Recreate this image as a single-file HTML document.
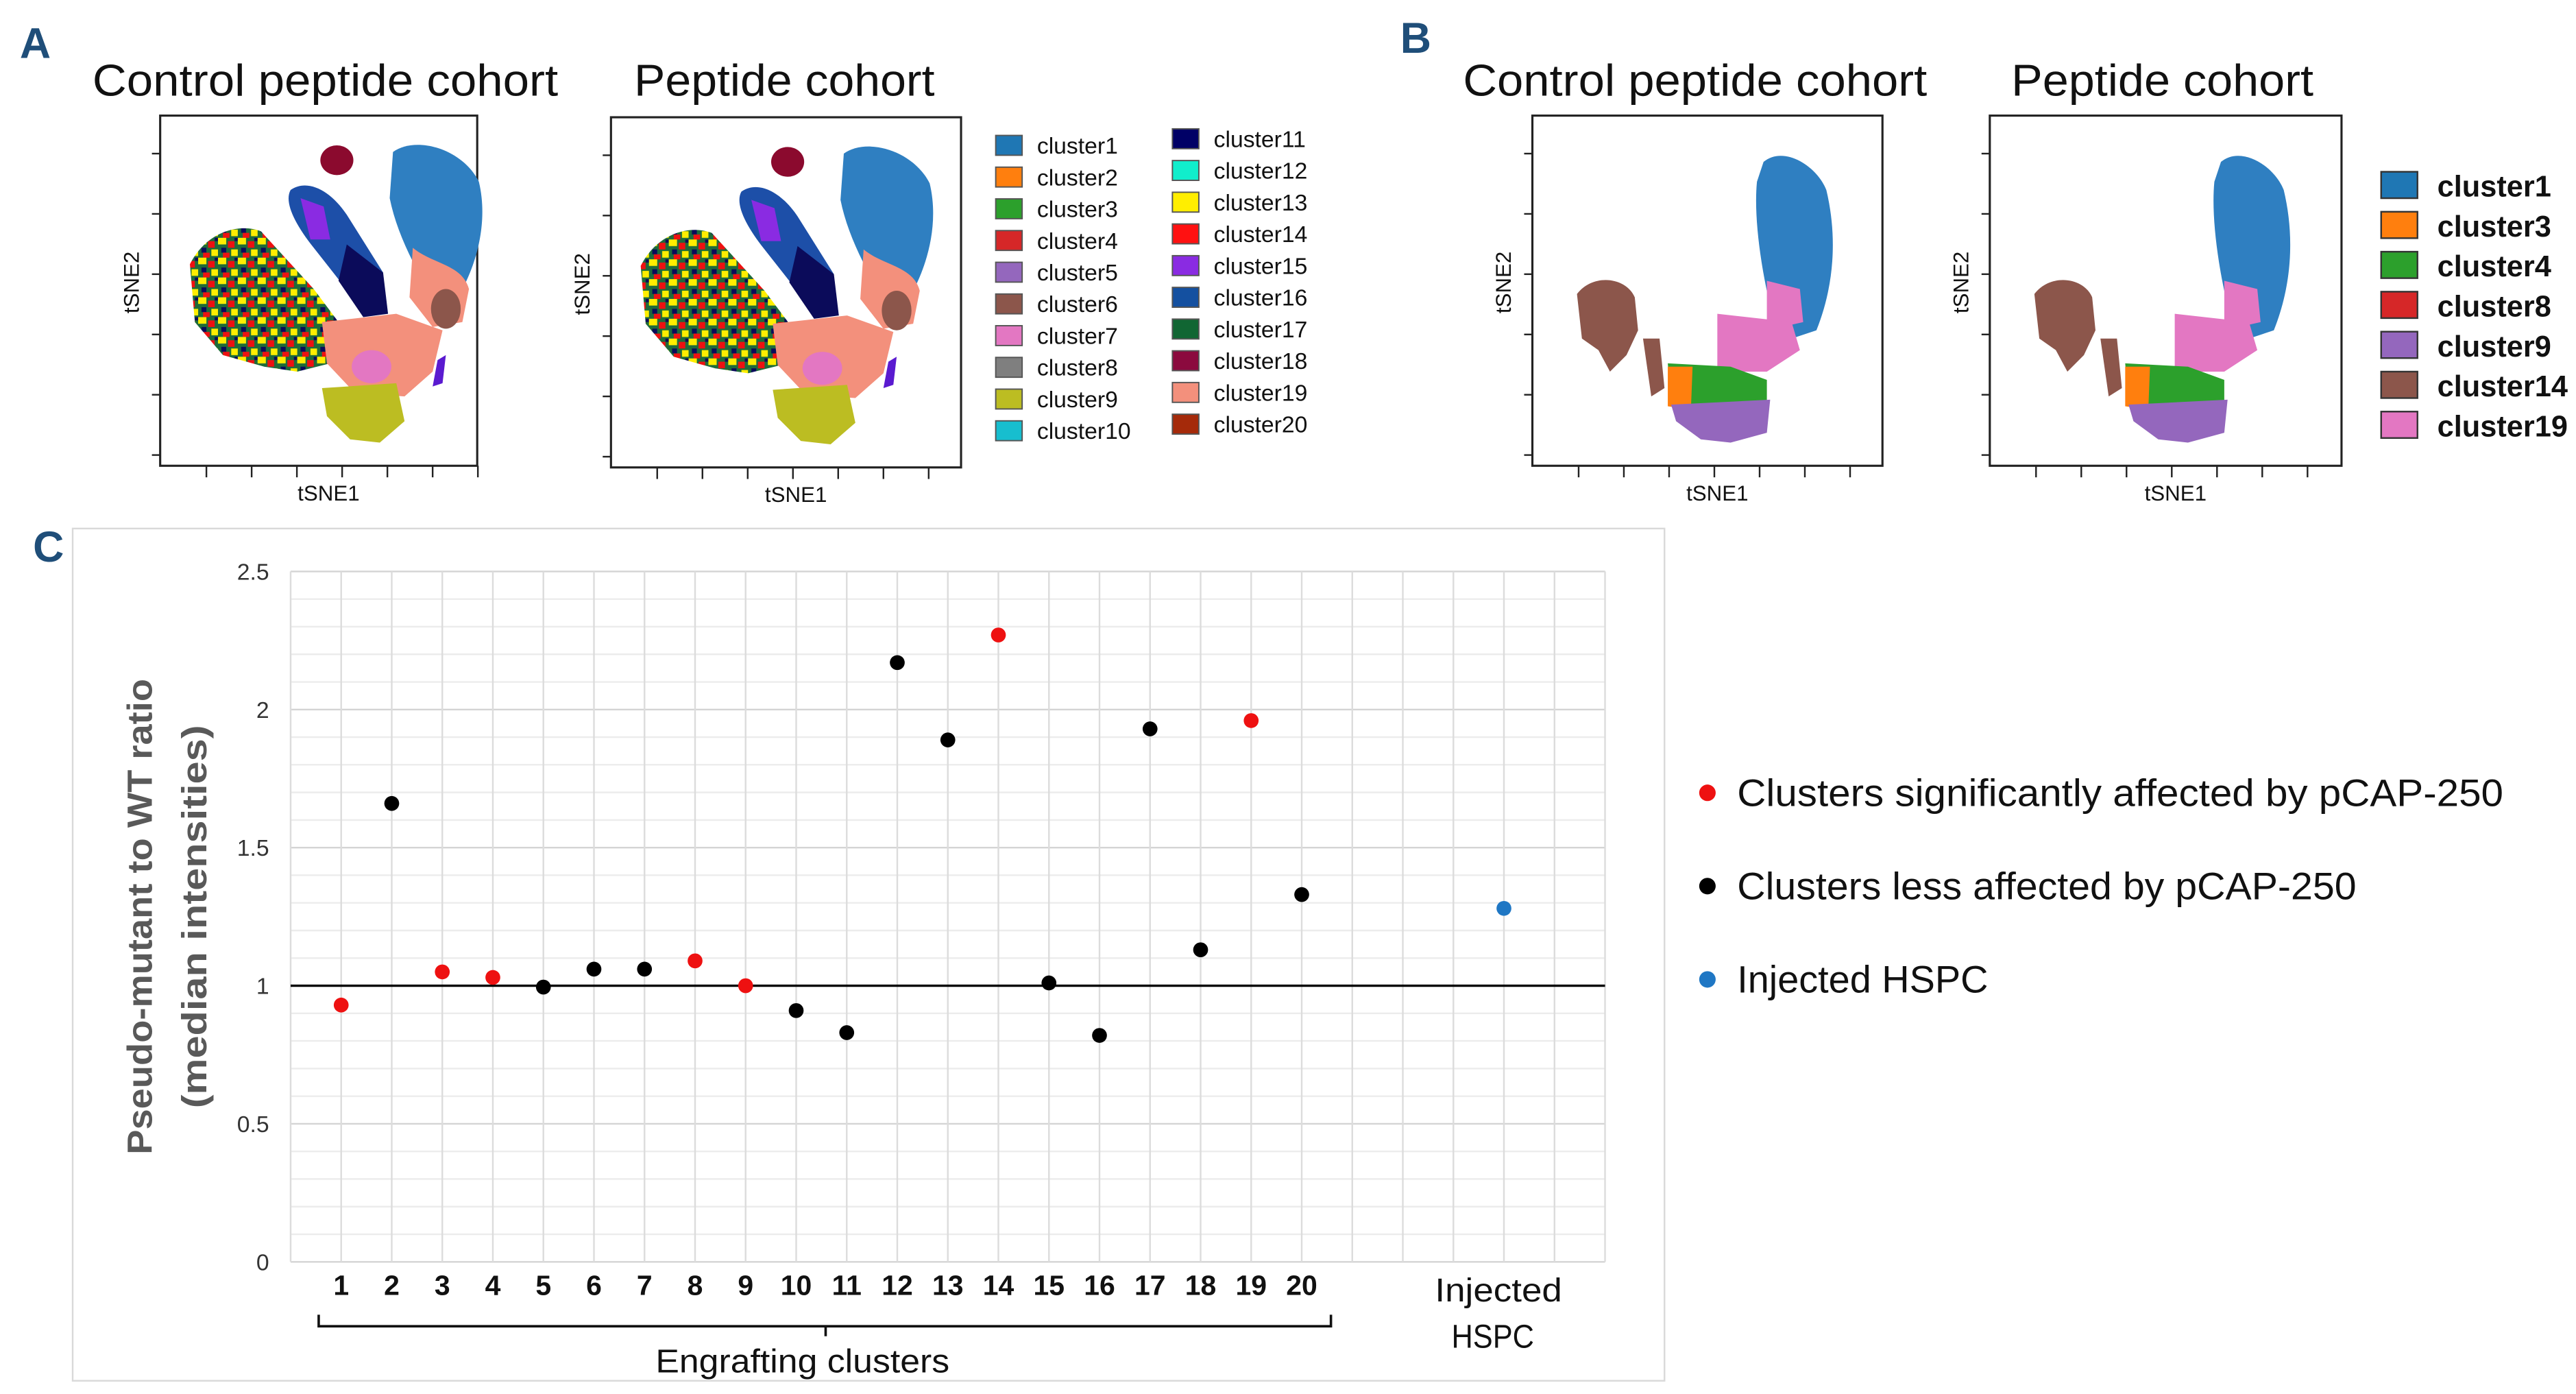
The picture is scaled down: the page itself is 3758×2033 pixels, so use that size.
<!DOCTYPE html>
<html><head><meta charset="utf-8"><style>
html,body{margin:0;padding:0;background:#fff;}
svg{display:block;}
text{font-family:"Liberation Sans",sans-serif;}
</style></head><body>
<svg id="fig" xmlns="http://www.w3.org/2000/svg" width="3758" height="2033" viewBox="0 0 1560 844" preserveAspectRatio="none">
<defs>
<pattern id="mixA" width="12" height="12" patternUnits="userSpaceOnUse">
<rect width="12" height="12" fill="#1e6b3a"/>
<rect x="0" y="0" width="5" height="4" fill="#ffee00"/><rect x="6" y="2" width="4" height="4" fill="#ee1111"/>
<rect x="2" y="6" width="3" height="3" fill="#0b0b5a"/><rect x="8" y="7" width="4" height="4" fill="#ffee00"/>
<rect x="3" y="9" width="4" height="3" fill="#ee1111"/><rect x="10" y="0" width="2" height="2" fill="#0b0b5a"/>
</pattern>
<g id="tsneA">
<ellipse cx="204" cy="97" rx="10" ry="9" fill="#8b0a2e"/>
<path d="M238,92 C252,82 280,90 290,110 C296,135 288,160 280,175 L262,180 C250,160 240,140 236,120 Z" fill="#2f7fc1"/>
<path d="M250,150 C262,160 280,160 284,175 L280,195 L262,198 L248,180 Z" fill="#f3907c"/>
<ellipse cx="270" cy="187" rx="9" ry="12" fill="#8c564b"/>
<path d="M176,115 C186,108 200,115 210,130 L232,165 L228,180 L212,178 L190,150 C178,135 172,122 176,115 Z" fill="#1d4fa8"/>
<path d="M182,120 L196,125 L200,145 L188,145 Z" fill="#8a2be2"/>
<path d="M210,148 L232,165 L235,190 L220,192 L205,170 Z" fill="#0b0b5a"/>
<path d="M115,160 C125,140 145,135 158,140 L190,175 L205,195 L200,220 L180,225 L160,222 L135,215 L118,195 Z" fill="url(#mixA)"/>
<path d="M195,195 L240,190 L268,200 L262,225 L245,240 L215,238 L198,220 Z" fill="#f3907c"/>
<ellipse cx="225" cy="222" rx="12" ry="10" fill="#e377c2"/>
<path d="M195,235 L240,232 L245,255 L230,268 L212,266 L198,252 Z" fill="#bcbd22"/>
<path d="M265,218 L270,215 L268,232 L262,234 Z" fill="#5a1ad0"/>
</g>
<g id="tsneB">
<path d="M1068,98 C1080,88 1100,100 1106,115 C1112,140 1112,170 1100,200 L1085,205 L1072,185 C1066,160 1062,130 1064,110 Z" fill="#2f7fc1"/>
<path d="M1070,170 L1090,175 L1092,195 L1070,200 Z" fill="#e377c2"/>
<path d="M1040,190 L1085,195 L1090,212 L1070,225 L1040,225 Z" fill="#e377c2"/>
<path d="M955,178 C965,165 985,168 990,180 L992,200 L985,215 L975,225 L968,212 L958,205 Z" fill="#8c564b"/>
<path d="M995,205 L1005,205 L1008,235 L1000,240 Z" fill="#8c564b"/>
<path d="M1010,220 L1048,222 L1070,230 L1070,245 L1012,245 Z" fill="#2ca02c"/>
<path d="M1010,222 L1025,222 L1024,248 L1010,246 Z" fill="#ff7f0e"/>
<path d="M1012,245 L1072,242 L1070,262 L1048,268 L1030,266 L1015,255 Z" fill="#9467bd"/>
</g>
</defs>

<text x="12" y="35" font-size="26" font-weight="bold" fill="#1f4e79">A</text>
<text x="56" y="58" font-size="27" textLength="282" lengthAdjust="spacingAndGlyphs" fill="#111">Control peptide cohort</text>
<text x="384" y="58" font-size="27" textLength="182" lengthAdjust="spacingAndGlyphs" fill="#111">Peptide cohort</text>
<g>
<rect x="97" y="70" width="192" height="212" fill="#fff" stroke="#222" stroke-width="1.3"/>
<use href="#tsneA"/>
</g>
<g transform="translate(273,1)">
<rect x="97" y="70" width="212" height="212" fill="#fff" stroke="#222" stroke-width="1.3"/>
<use href="#tsneA"/>
</g>
<g>
<rect x="928" y="70" width="212" height="212" fill="#fff" stroke="#222" stroke-width="1.3"/>
<use href="#tsneB"/>
</g>
<g transform="translate(277,0)">
<rect x="928" y="70" width="213" height="212" fill="#fff" stroke="#222" stroke-width="1.3"/>
<use href="#tsneB"/>
</g>
<g id="tsneAxes"></g>

<text x="848" y="32" font-size="26" font-weight="bold" fill="#1f4e79">B</text>
<text x="886" y="58" font-size="27" textLength="281" lengthAdjust="spacingAndGlyphs" fill="#111">Control peptide cohort</text>
<text x="1218" y="58" font-size="27" textLength="183" lengthAdjust="spacingAndGlyphs" fill="#111">Peptide cohort</text>
<g id="legendA"></g>
<g id="legendB"></g>

<rect x="44" y="320" width="964" height="516" fill="#fff" stroke="#d9d9d9" stroke-width="1"/>
<text x="20" y="340" font-size="26" font-weight="bold" fill="#1f4e79">C</text>
<g id="chartC"></g>
<g transform="translate(92,555) rotate(-90)">
<text x="0" y="0" text-anchor="middle" font-size="21" textLength="288" lengthAdjust="spacingAndGlyphs" font-weight="bold" fill="#595959">Pseudo-mutant to WT ratio</text>
<text x="0" y="33" text-anchor="middle" font-size="21" textLength="232" lengthAdjust="spacingAndGlyphs" font-weight="bold" fill="#595959">(median intensities)</text>
</g>
<path d="M193,796 L193,803 L806,803 L806,796 M500,803 L500,809" fill="none" stroke="#111" stroke-width="1.5"/>
<text x="397" y="831" font-size="20" textLength="178" lengthAdjust="spacingAndGlyphs" fill="#111">Engrafting clusters</text>
<text x="869" y="788" font-size="20" textLength="77" lengthAdjust="spacingAndGlyphs" fill="#111">Injected</text>
<text x="879" y="816" font-size="20" textLength="50" lengthAdjust="spacingAndGlyphs" fill="#111">HSPC</text>
<g id="legendC"></g>
</svg>
<script>
const NS="http://www.w3.org/2000/svg";
const clusterIds=[1,2,3,4,5,6,7,8,9,10,11,12,13,14,15,16,17,18,19,20];
const ratios=[0.93,1.66,1.05,1.03,0.995,1.06,1.06,1.09,1.0,0.91,0.83,2.17,1.89,2.27,1.01,0.82,1.93,1.13,1.96,1.33];
const significant=[1,0,1,1,0,0,0,1,1,0,0,0,0,1,0,0,0,0,1,0];
const hspcRatio=1.28;
const yTicks=[0,0.5,1,1.5,2,2.5];
const yTickLabels=["0","0.5","1","1.5","2","2.5"];
const legendCLabels=["Clusters significantly affected by pCAP-250","Clusters less affected by pCAP-250","Injected HSPC"];
const legendCWidths=[464,375,152];
const legendCColors=["#ee1111","#000000","#1f77c4"];
const legendANames=["cluster1","cluster2","cluster3","cluster4","cluster5","cluster6","cluster7","cluster8","cluster9","cluster10","cluster11","cluster12","cluster13","cluster14","cluster15","cluster16","cluster17","cluster18","cluster19","cluster20"];
const legendAColors=["#1f77b4","#ff7f0e","#2ca02c","#d62728","#9467bd","#8c564b","#e377c2","#7f7f7f","#bcbd22","#17becf","#000066","#11eecc","#ffee00","#ff1111","#8a2be2","#1450a0","#116633","#8b0a3e","#f3907c","#a52a0a"];
const legendBNames=["cluster1","cluster3","cluster4","cluster8","cluster9","cluster14","cluster19"];
const legendBColors=["#1f77b4","#ff7f0e","#2ca02c","#d62728","#9467bd","#8c564b","#e377c2"];

function mk(tag,attrs,parent){const e=document.createElementNS(NS,tag);for(const k in attrs)e.setAttribute(k,attrs[k]);parent.appendChild(e);return e;}
const L=176,R=972,T=346,B=764,nCols=26;
const step=(R-L)/nCols;
function xPos(i){return L+i*step;}
function yPos(v){return B-(v/2.5)*(B-T);}

const c=document.getElementById('chartC');
for(let k=0;k<=25;k++){const v=k*0.1;const g=mk('line',{x1:L,x2:R,y1:yPos(v),y2:yPos(v),stroke:(k%5===0)?'#d4d4d4':'#ececec','stroke-width':1},c);

}
for(let i=0;i<=nCols;i++){const g=mk('line',{x1:xPos(i),x2:xPos(i),y1:T,y2:B,stroke:'#dcdcdc','stroke-width':1},c);

}
yTicks.forEach((v,i)=>{const t=mk('text',{x:163,y:yPos(v)+5,'text-anchor':'end','font-size':14,fill:'#333'},c);t.textContent=yTickLabels[i];

});
const ref=mk('line',{x1:L,x2:R,y1:yPos(1),y2:yPos(1),stroke:'#000','stroke-width':1.4},c);


clusterIds.forEach((id,i)=>{
 const t=mk('text',{x:xPos(id),y:784,'text-anchor':'middle','font-size':17,'font-weight':'bold',fill:'#111'},c);t.textContent=String(id);
 
 
 const p=mk('circle',{cx:xPos(id),cy:yPos(ratios[i]),r:4.5,fill:significant[i]?'#ee1111':'#000'},c);
 
 
});
const hp=mk('circle',{cx:xPos(24),cy:yPos(hspcRatio),r:4.5,fill:'#1f77c4'},c);



const lc=document.getElementById('legendC');
legendCLabels.forEach((lab,i)=>{const y=480+i*56.5;
 const d=mk('circle',{cx:1034,cy:y,r:5,fill:legendCColors[i]},lc);
 
 
 const t=mk('text',{x:1052,y:y+8,'font-size':23,fill:'#111',textLength:legendCWidths[i],lengthAdjust:'spacingAndGlyphs'},lc);t.textContent=lab;
 
 });

const la=document.getElementById('legendA');
legendANames.forEach((n,i)=>{const col=i<10?0:1,row=i%10;const x=col?710:603,y=(col?84:88)+row*19.2;
 const r=mk('rect',{x:x,y:y-6,width:16,height:12,fill:legendAColors[i],stroke:'#555','stroke-width':0.8},la);
 
 
 const t=mk('text',{x:x+25,y:y+5,'font-size':14,fill:'#111'},la);t.textContent=n;
 
 });
const lb=document.getElementById('legendB');
legendBNames.forEach((n,i)=>{const y=112+i*24.2;
 const r=mk('rect',{x:1442,y:y-8,width:22,height:16,fill:legendBColors[i],stroke:'#333','stroke-width':1},lb);
 
 
 const t=mk('text',{x:1476,y:y+7,'font-size':18,'font-weight':'bold',fill:'#111'},lb);t.textContent=n;
 
 });

const ax=document.getElementById('tsneAxes');
const boxes=[[97,70,289,282],[370,71,582,283],[928,70,1140,282],[1205,70,1418,282]];
boxes.forEach(b=>{
 for(let k=0;k<6;k++){const y=b[1]+23+k*36.5;mk('line',{x1:b[0]-5,x2:b[0],y1:y,y2:y,stroke:'#222','stroke-width':1},ax);}
 for(let k=0;k<7;k++){const x=b[0]+28+k*27.4;mk('line',{x1:x,x2:x,y1:b[3],y2:b[3]+7,stroke:'#222','stroke-width':1},ax);}
 const t1=mk('text',{x:(b[0]+b[2])/2+6,y:b[3]+21,'text-anchor':'middle','font-size':13,fill:'#111'},ax);t1.textContent='tSNE1';
 
 
 const t2=mk('text',{x:0,y:0,'text-anchor':'middle','font-size':13,fill:'#111',transform:'translate('+(b[0]-13)+','+((b[1]+b[3])/2-5)+') rotate(-90)'},ax);t2.textContent='tSNE2';
 
 
});
</script>
</body></html>
